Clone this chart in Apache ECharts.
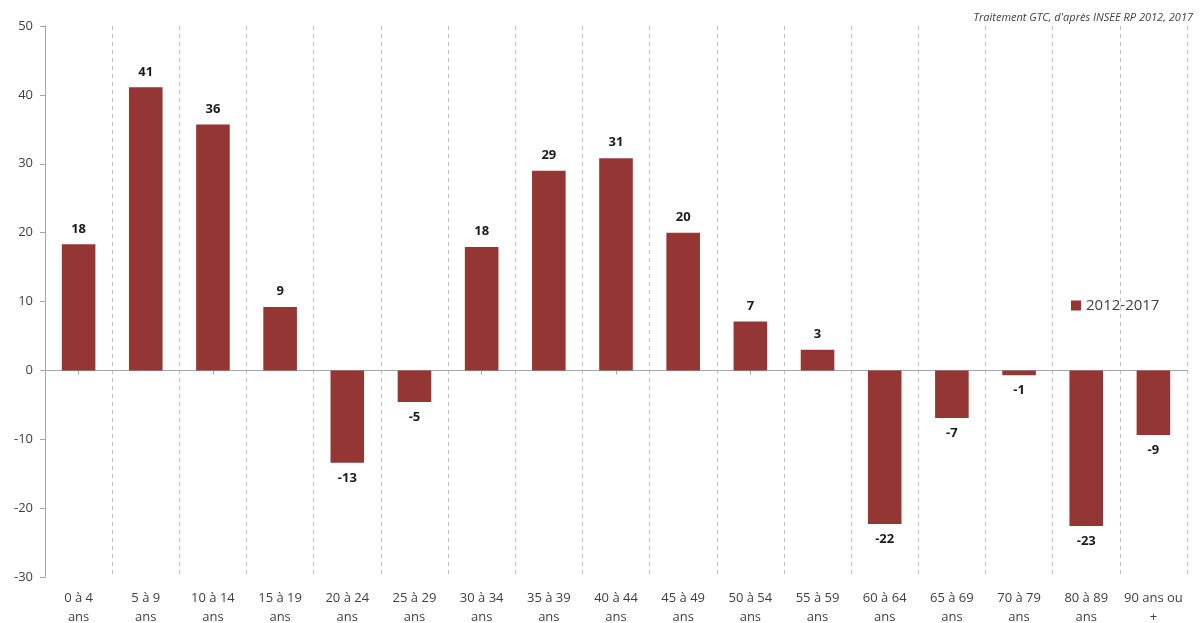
<!DOCTYPE html>
<html>
<head>
<meta charset="utf-8">
<script src="https://cdn.jsdelivr.net/npm/echarts@6/dist/echarts.min.js"></script>
<style>
  html, body { margin: 0; padding: 0; background: #fff; }
  #chart { width: 1203px; height: 623px; }
</style>
</head>
<body>
<div id="chart"></div>
<script>
const categories = ['0 à 4\nans', '5 à 9\nans', '10 à 14\nans', '15 à 19\nans', '20 à 24\nans',
  '25 à 29\nans', '30 à 34\nans', '35 à 39\nans', '40 à 44\nans', '45 à 49\nans', '50 à 54\nans',
  '55 à 59\nans', '60 à 64\nans', '65 à 69\nans', '70 à 79\nans', '80 à 89\nans', '90 ans ou\n+']
const evolution = [18.3, 41.1, 35.7, 9.2, -13.4, -4.6, 17.9, 29.0, 30.8, 20.0, 7.1, 3.0, -22.3, -6.9, -0.7, -22.6, -9.4]
const seriesName = '2012-2017'
const yTicks = { min: -30, max: 50, step: 10 }

const font = '"Open Sans", "DejaVu Sans", sans-serif'
const barColor = '#943634'
const axisGrey = '#a6a6a6'
const textGrey = '#404040'

const chart = echarts.init(document.getElementById('chart'))

// negative bars get their label under the bar
const barData = evolution.map((v) => ({
    value: v,
    label: { position: v < 0 ? 'bottom' : 'top' }
}))

chart.setOption({
    animation: false,
    textStyle: { fontFamily: font },
    title: {
        text: 'Traitement GTC, d\'après INSEE RP 2012, 2017',
        right: 5,
        top: 7,
        textStyle: { fontSize: 11, fontStyle: 'italic', fontWeight: 'normal', color: '#404040', fontFamily: font }
    },
    legend: {
        left: 1066,
        top: 293,
        itemWidth: 10,
        itemHeight: 10,
        icon: 'rect',
        textStyle: { fontSize: 15, color: textGrey, fontFamily: font },
        data: [seriesName]
    },
    grid: { left: 45, right: 16, top: 26, bottom: 46, outerBoundsMode: 'none' },
    xAxis: [
        {
            type: 'category',
            data: categories,
            position: 'bottom',
            axisLine: { show: false, onZero: false },
            axisTick: { show: false },
            axisLabel: { color: textGrey, fontSize: 13, lineHeight: 19, margin: 12, interval: 0, fontFamily: font },
            splitLine: { show: false }
        },
        {
            type: 'category',
            data: categories,
            position: 'bottom',
            axisLine: { show: true, onZero: true, lineStyle: { color: axisGrey, width: 1 } },
            axisTick: { show: true, alignWithLabel: true, length: 4, lineStyle: { color: axisGrey } },
            axisLabel: { show: false },
            splitLine: { show: true, interval: 0, lineStyle: { color: '#bfbfbf', type: [4, 4], width: 1 } }
        }
    ],
    yAxis: {
        type: 'value',
        min: yTicks.min,
        max: yTicks.max,
        interval: yTicks.step,
        axisLine: { show: true, lineStyle: { color: axisGrey } },
        axisTick: { show: true, length: 5, lineStyle: { color: axisGrey } },
        axisLabel: { color: textGrey, fontSize: 13, margin: 12, fontFamily: font },
        splitLine: { show: false }
    },
    series: [{
        name: seriesName,
        type: 'bar',
        xAxisIndex: 0,
        data: barData,
        barWidth: '50%',
        itemStyle: { color: barColor },
        label: {
            show: true,
            distance: 9,
            color: '#1a1a1a',
            fontSize: 13,
            fontWeight: 'bold',
            fontFamily: font,
            formatter: (p) => Math.round(p.value)
        }
    }]
})
</script>
</body>
</html>
